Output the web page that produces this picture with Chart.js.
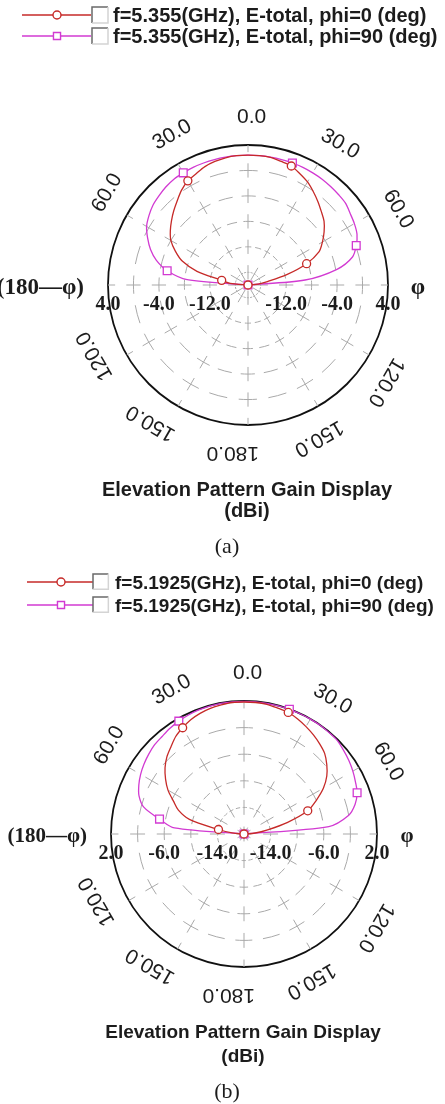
<!DOCTYPE html>
<html>
<head>
<meta charset="utf-8">
<script src="https://cdn.jsdelivr.net/npm/chart.js@4.4.1/dist/chart.umd.min.js"></script>
<style>
  html, body { margin: 0; padding: 0; background: #fff; }
  canvas { display: block; }
</style>
</head>
<body>
<canvas id="patternA" width="445" height="560"></canvas>
<canvas id="patternB" width="445" height="544"></canvas>
<script>
// Elevation angle theta (deg): -90 = left horizon (phi+180 half), 0 = zenith, 90 = right horizon
const thetaDeg = [-90, -85, -80, -75, -70, -65, -60, -55, -50, -45, -40, -35, -30, -25, -20, -15, -10, -5,
  0, 5, 10, 15, 20, 25, 30, 35, 40, 45, 50, 55, 60, 65, 70, 75, 80, 85, 90];

// (a) f = 5.355 GHz, total gain in dBi
const gainA_phi0 = [-18, -15.2, -13.8, -9.7, -7.0, -5.4, -4.0, -3.1, -2.3, -1.5, -0.7, 0.2, 0.9, 1.3, 1.8, 2.1, 2.3, 2.4,
  2.4, 2.4, 2.35, 2.1, 1.9, 1.3, 0.7, -0.1, -0.9, -1.7, -2.4, -3.4, -4.5, -5.7, -8.2, -11.7, -14.9, -16.4, -18];
const gainA_phi90 = [-18, -8.4, -5.1, -3.1, -1.7, -0.6, 0.4, 1.0, 1.5, 1.8, 2.1, 2.3, 2.35, 2.4, 2.4, 2.4, 2.4, 2.4,
  2.4, 2.4, 2.4, 2.4, 2.4, 2.4, 2.35, 2.3, 2.2, 2.1, 2.0, 1.6, 1.3, 0.9, 0.1, -1.0, -3.8, -9.0, -18];

// (b) f = 5.1925 GHz, total gain in dBi
const gainB_phi0 = [-18, -16.2, -14.1, -9.5, -7.5, -6.3, -4.8, -3.6, -2.5, -1.6, -0.9, -0.1, 0.45, 0.95, 1.3, 1.55, 1.7, 1.85,
  1.85, 1.85, 1.8, 1.6, 1.45, 1.1, 0.65, 0.2, -0.3, -0.85, -1.75, -2.8, -4.2, -6.0, -7.8, -11.2, -14.4, -16.3, -18];
const gainB_phi90 = [-18, -7.5, -5.1, -2.4, -1.2, -0.55, -0.05, 0.35, 0.7, 1.0, 1.15, 1.4, 1.6, 1.75, 1.85, 1.9, 1.95, 1.95,
  1.95, 1.95, 1.95, 1.95, 1.95, 1.95, 1.95, 1.95, 1.9, 1.85, 1.55, 1.25, 0.9, 0.5, 0.1, -0.7, -2.05, -5.2, -18];

// Sample angles that carry a marker symbol
const markerTheta = [-80, -30, 20, 70, 90];

// Radial grid (dB rings) and the values printed along the horizontal axis
const ringsA = [4, 0, -4, -8, -12, -16];
const ringsB = [2, -2, -6, -10, -14];
const radialLabelsA = [4, -4, -12];
const radialLabelsB = [2, -6, -14];

// Angular ticks (deg); 90 is written as the plane names
const angleTicks = [0, 30, 60, 90, 120, 150, 180];

const legendA = ['f=5.355(GHz), E-total, phi=0 (deg)', 'f=5.355(GHz), E-total, phi=90 (deg)'];
const legendB = ['f=5.1925(GHz), E-total, phi=0 (deg)', 'f=5.1925(GHz), E-total, phi=90 (deg)'];
const titleLines = ['Elevation Pattern Gain Display', '(dBi)'];
const captions = ['(a)', '(b)'];

const COLOR_PHI0 = '#c62a28';
const COLOR_PHI90 = '#d23ad2';
const GRID_GRAY = '#a9a9a9';
const TEXT = '#1c1c1c';
const SANS = '"Liberation Sans", Arial, sans-serif';
const SERIF = '"Liberation Serif", "Times New Roman", serif';

// One radar category per 5 degrees all round; index 0 sits on the left horizon
const STEP = 5;
const angleCategories = [];
for (let i = 0; i < 360 / STEP; i++) {
  let t = -90 + i * STEP;
  if (t > 180) t -= 360;
  angleCategories.push(String(t));
}
const indexOfTheta = t => (((t + 90) / STEP) % angleCategories.length + angleCategories.length) % angleCategories.length;

const W = 445;
const panels = [
  {
    id: 'patternA', H: 560, legend: legendA, phi0: gainA_phi0, phi90: gainA_phi90,
    rings: ringsA, radialLabels: radialLabelsA, min: -18, max: 4,
    cx: 248, cy: 285, R: 140, k: 1, planeFont: 23,
    lx: { line0: 22, line1: 91, marker: 57, box: 92, text: 113 }, ly: [15, 36],
    titleY: [490, 511], caption: captions[0], captionY: 547
  },
  {
    id: 'patternB', H: 544, legend: legendB, phi0: gainB_phi0, phi90: gainB_phi90,
    rings: ringsB, radialLabels: radialLabelsB, min: -18, max: 2,
    cx: 244, cy: 274, R: 133, k: 0.96, planeFont: 21,
    lx: { line0: 27, line1: 93, marker: 61, box: 93, text: 115 }, ly: [22, 45],
    titleY: [473, 497], caption: captions[1], captionY: 532
  }
];

function ringDistance(scale, value) {
  return scale.getDistanceFromCenterForValue(value);
}

// Text, legend and axis annotations drawn around the polar grid
function decorPlugin(p) {
  return {
    id: 'decor_' + p.id,
    afterDraw(chart) {
      const ctx = chart.ctx;
      const s = chart.scales.r;
      const R = s.drawingArea;
      ctx.save();
      ctx.fillStyle = TEXT;

      // angular tick labels, turned along the circle
      ctx.textBaseline = 'middle';
      angleTicks.forEach(t => {
        const sides = (t === 0 || t === 180) ? [t] : [t, -t];
        sides.forEach(theta => {
          if (Math.abs(theta) === 90) {
            ctx.font = 'bold ' + p.planeFont + 'px ' + SERIF;
            if (theta > 0) {
              ctx.textAlign = 'center';
              ctx.fillText('\u03C6', s.xCenter + R + 30, s.yCenter + 3);
            } else {
              ctx.textAlign = 'right';
              ctx.fillText('(180\u2014\u03C6)', s.xCenter - R - 24, s.yCenter + 3);
            }
            return;
          }
          ctx.font = '21px ' + SANS;
          const pos = s.getPointPosition(indexOfTheta(theta), R + 28);
          ctx.save();
          ctx.translate(pos.x, pos.y);
          ctx.rotate(theta * Math.PI / 180);
          ctx.textAlign = 'left';
          ctx.fillText(Math.abs(theta).toFixed(1), -11, 0);
          ctx.restore();
        });
      });

      // dB values along the horizontal axis, both halves
      ctx.font = 'bold 20px ' + SERIF;
      ctx.textAlign = 'center';
      p.radialLabels.forEach(v => {
        [indexOfTheta(-90), indexOfTheta(90)].forEach(idx => {
          const pos = s.getPointPositionForValue(idx, v);
          ctx.fillText(v.toFixed(1), pos.x, s.yCenter + 20);
        });
      });

      // legend rows: line with marker, check box, series name
      const series = [
        { color: COLOR_PHI0, style: 'circle', radius: 4 },
        { color: COLOR_PHI90, style: 'rect', radius: 5 }
      ];
      series.forEach((sr, j) => {
        const y = p.ly[j];
        ctx.strokeStyle = sr.color;
        ctx.lineWidth = 1.4;
        ctx.beginPath();
        ctx.moveTo(p.lx.line0, y);
        ctx.lineTo(p.lx.line1, y);
        ctx.stroke();
        ctx.fillStyle = '#fff';
        Chart.helpers.drawPoint(ctx, { pointStyle: sr.style, radius: sr.radius, borderWidth: 1.4, rotation: 0 }, p.lx.marker, y);
        // check box with a sunken edge
        const bx = p.lx.box, by = y - 8, bs = 16 * p.k;
        ctx.fillStyle = '#fff';
        ctx.fillRect(bx, by, bs, bs);
        ctx.lineWidth = 1.5;
        ctx.strokeStyle = '#6a6a6a';
        ctx.beginPath();
        ctx.moveTo(bx, by + bs); ctx.lineTo(bx, by); ctx.lineTo(bx + bs, by);
        ctx.stroke();
        ctx.strokeStyle = '#d4d4d4';
        ctx.beginPath();
        ctx.moveTo(bx + bs, by); ctx.lineTo(bx + bs, by + bs); ctx.lineTo(bx, by + bs);
        ctx.stroke();
        ctx.fillStyle = TEXT;
        ctx.font = 'bold ' + Math.round(20 * p.k) + 'px ' + SANS;
        ctx.textAlign = 'left';
        ctx.fillText(p.legend[j], p.lx.text, y + 1.5);
      });

      // plot title under the circle
      ctx.textAlign = 'center';
      ctx.font = 'bold ' + Math.round(20 * p.k) + 'px ' + SANS;
      titleLines.forEach((line, i) => ctx.fillText(line, s.xCenter - 1, p.titleY[i]));

      // figure caption
      ctx.font = '22px ' + SERIF;
      ctx.fillText(p.caption, 227, p.captionY);
      ctx.restore();
    }
  };
}

function makeDataset(label, values, color, style, radius) {
  return {
    label,
    data: values,
    borderColor: color,
    borderWidth: 1.3,
    backgroundColor: 'rgba(0,0,0,0)',
    fill: false,
    tension: 0.3,
    pointStyle: style,
    pointBorderColor: color,
    pointBackgroundColor: '#fff',
    pointBorderWidth: 1.3,
    pointRadius: c => markerTheta.includes(thetaDeg[c.dataIndex]) ? radius : 0,
    pointHoverRadius: 0
  };
}

panels.forEach(p => {
  const cvs = document.getElementById(p.id);
  new Chart(cvs, {
    type: 'radar',
    data: {
      labels: angleCategories,
      datasets: [
        makeDataset(p.legend[0], p.phi0, COLOR_PHI0, 'circle', 4),
        makeDataset(p.legend[1], p.phi90, COLOR_PHI90, 'rect', 5.5)
      ]
    },
    options: {
      responsive: false,
      animation: false,
      events: [],
      layout: {
        padding: { left: p.cx - p.R, right: W - p.cx - p.R, top: p.cy - p.R, bottom: p.H - p.cy - p.R }
      },
      plugins: { legend: { display: false }, tooltip: { enabled: false }, title: { display: false } },
      scales: {
        r: {
          min: p.min,
          max: p.max,
          startAngle: -90,
          afterBuildTicks: scale => { scale.ticks = [p.min].concat(p.rings).map(v => ({ value: v })); },
          ticks: { display: false },
          pointLabels: { display: false },
          grid: {
            circular: true,
            color: c => c.tick.value === p.max ? '#111' : GRID_GRAY,
            lineWidth: c => c.tick.value === p.max ? 1.8 : 1
          },
          border: {
            dash: c => {
              if (c.tick.value === p.max) return [];
              const per = ringDistance(c.scale, c.tick.value) * Math.PI / 12;
              return [per * 0.62, per * 0.38];
            },
            dashOffset: c => {
              if (c.tick.value === p.max) return 0;
              return ringDistance(c.scale, c.tick.value) * Math.PI / 12 * 0.31;
            }
          },
          angleLines: {
            color: GRID_GRAY,
            lineWidth: c => (c.index * STEP) % 30 === 0 ? 1 : 0,
            borderDash: c => {
              const sc = c.chart.scales.r;
              const gap = ringDistance(sc, 0) - ringDistance(sc, -4);
              return [gap * 0.56, gap * 0.44];
            },
            borderDashOffset: c => {
              const sc = c.chart.scales.r;
              const gap = ringDistance(sc, 0) - ringDistance(sc, -4);
              const first = ringDistance(sc, p.rings[p.rings.length - 1]);
              const start = first - gap * 0.28;
              return ((gap - (start % gap)) % gap + gap) % gap;
            }
          }
        }
      }
    },
    plugins: [decorPlugin(p)]
  });
});
</script>
</body>
</html>
